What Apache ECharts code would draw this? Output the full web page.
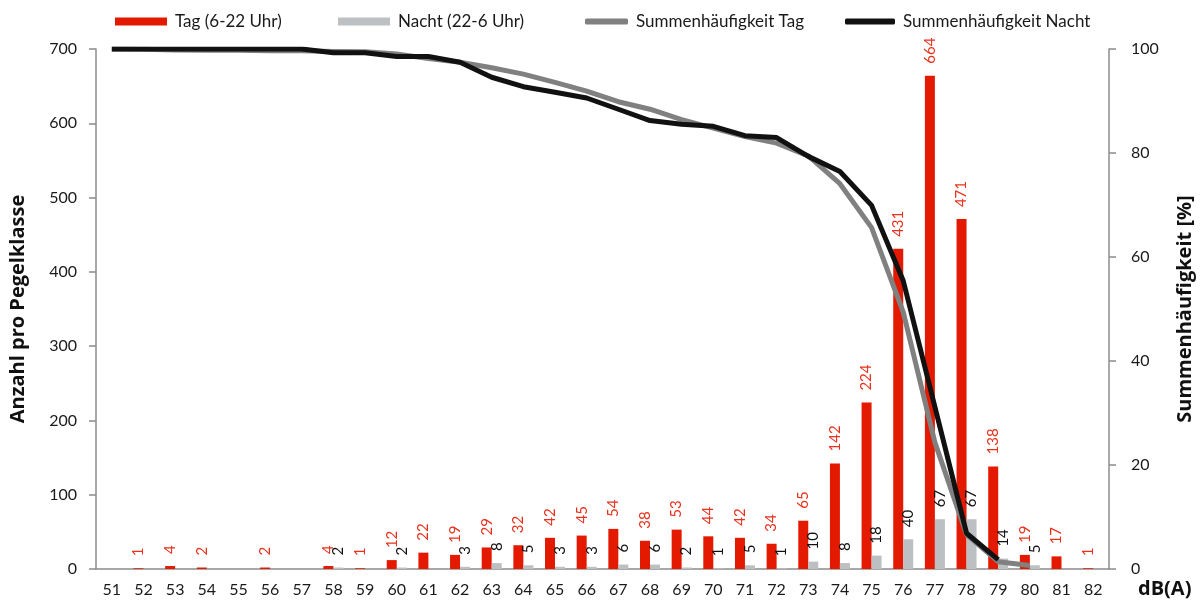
<!DOCTYPE html>
<html>
<head>
<meta charset="utf-8">
<title>Pegelklassen</title>
<script src="https://cdn.jsdelivr.net/npm/echarts@6/dist/echarts.min.js"></script>
<style>
  html, body { margin: 0; padding: 0; background: #fff; }
  #chart { width: 1203px; height: 604px; }
</style>
</head>
<body>
<div id="chart"></div>
<script>
// Pegelklassen dB(A)
var klassen = ['51', '52', '53', '54', '55', '56', '57', '58', '59', '60', '61', '62', '63', '64', '65', '66',
  '67', '68', '69', '70', '71', '72', '73', '74', '75', '76', '77', '78', '79', '80', '81', '82']

// Anzahl pro Pegelklasse
var tag = [0, 1, 4, 2, 0, 2, 0, 4, 1, 12, 22, 19, 29, 32, 42, 45,
  54, 38, 53, 44, 42, 34, 65, 142, 224, 431, 664, 471, 138, 19, 17, 1]
var nacht = [0, 0, 0, 0, 0, 0, 0, 2, 0, 2, 0, 3, 8, 5, 3, 3,
  6, 6, 2, 1, 5, 1, 10, 8, 18, 40, 67, 67, 14, 5, 0, 0]

// Summenhäufigkeit [%]
var summeTag = [100, 99.96, 99.81, 99.74, 99.74, 99.66, 99.66, 99.51, 99.47, 99.02, 98.19, 97.47, 96.38, 95.17, 93.59, 91.89,
  89.86, 88.42, 86.43, 84.77, 83.18, 81.9, 79.45, 74.1, 65.65, 49.4, 24.36, 6.6, 1.4, 0.68, null, null]
var summeNacht = [100, 100, 100, 100, 100, 100, 100, 99.28, 99.28, 98.55, 98.55, 97.46, 94.57, 92.75, 91.67, 90.58,
  88.41, 86.23, 85.51, 85.14, 83.33, 82.97, 79.35, 76.45, 69.93, 55.43, 31.16, 6.88, 1.81, null, null, null]

var linksTicks = { min: 0, max: 700, interval: 100 }
var rechtsTicks = { min: 0, max: 100, interval: 20 }

var font = 'Lato, "Open Sans", sans-serif'
var titelFont = '"Open Sans", Lato, sans-serif'
var achsenFarbe = '#8c8c8c'

function legende(name, left, width, height, icon) {
  return {
    data: [name],
    left: left,
    top: 8,
    icon: icon,
    itemWidth: width,
    itemHeight: height,
    textStyle: { fontFamily: font, fontSize: 17, color: '#1a1a1a', padding: [0, 0, 0, 3] }
  }
}

function balkenLabel(farbe) {
  return {
    show: true,
    position: 'top',
    rotate: 90,
    align: 'left',
    verticalAlign: 'middle',
    distance: 12,
    fontFamily: font,
    fontSize: 15,
    color: farbe,
    formatter: function(p) {
      return p.value ? String(p.value) : ''
    }
  }
}

var titel = { fontFamily: titelFont, fontSize: 20, fontWeight: 'bold', color: '#111' }

var option = {
  animation: false,
  legend: [
    legende('Tag (6-22 Uhr)', 110, 52, 8, 'rect'),
    legende('Nacht (22-6 Uhr)', 333, 52, 8, 'rect'),
    legende('Summenhäufigkeit Tag', 580, 43, 6, 'roundRect'),
    legende('Summenhäufigkeit Nacht', 840, 50, 6, 'roundRect')
  ],
  grid: {
    left: 96,
    right: 94,
    top: 49,
    bottom: 35
  },
  xAxis: {
    type: 'category',
    data: klassen,
    name: 'dB(A)',
    nameLocation: 'end',
    nameGap: 29,
    nameTextStyle: {
      fontFamily: titelFont,
      fontSize: 20,
      fontWeight: 'bold',
      color: '#111',
      verticalAlign: 'top',
      padding: [10, 0, 0, 0]
    },
    axisLine: { lineStyle: { color: achsenFarbe, width: 1.5 } },
    axisTick: { length: 7, lineStyle: { color: achsenFarbe, width: 1.5 } },
    axisLabel: { interval: 0, margin: 13, fontFamily: font, fontSize: 16, color: '#1a1a1a' }
  },
  yAxis: [
    {
      type: 'value',
      min: linksTicks.min,
      max: linksTicks.max,
      interval: linksTicks.interval,
      name: 'Anzahl pro Pegelklasse',
      nameLocation: 'middle',
      nameGap: 68,
      nameTextStyle: titel,
      axisLine: { show: true, lineStyle: { color: achsenFarbe, width: 1.5 } },
      axisTick: { show: true, length: 7, lineStyle: { color: achsenFarbe, width: 1.5 } },
      axisLabel: { margin: 19, fontFamily: font, fontSize: 16, color: '#1a1a1a' },
      splitLine: { show: false }
    },
    {
      type: 'value',
      position: 'right',
      min: rechtsTicks.min,
      max: rechtsTicks.max,
      interval: rechtsTicks.interval,
      name: 'Summenhäufigkeit [%]',
      nameLocation: 'middle',
      nameGap: 66,
      nameTextStyle: titel,
      axisLine: { show: true, lineStyle: { color: achsenFarbe, width: 1.5 } },
      axisTick: { show: true, length: 7, lineStyle: { color: achsenFarbe, width: 1.5 } },
      axisLabel: { margin: 22, fontFamily: font, fontSize: 16, color: '#1a1a1a' },
      splitLine: { show: false }
    }
  ],
  series: [
    {
      type: 'bar',
      name: 'Tag (6-22 Uhr)',
      data: tag,
      barWidth: 10,
      barGap: '0%',
      itemStyle: { color: '#e41a00' },
      label: balkenLabel('#e8321e')
    },
    {
      type: 'bar',
      name: 'Nacht (22-6 Uhr)',
      data: nacht,
      barWidth: 10,
      barGap: '0%',
      itemStyle: { color: '#bcc0c3' },
      label: balkenLabel('#111')
    },
    {
      type: 'line',
      name: 'Summenhäufigkeit Tag',
      yAxisIndex: 1,
      data: summeTag,
      symbol: 'none',
      lineStyle: { color: '#808080', width: 5, join: 'round' },
      itemStyle: { color: '#808080' }
    },
    {
      type: 'line',
      name: 'Summenhäufigkeit Nacht',
      yAxisIndex: 1,
      data: summeNacht,
      symbol: 'none',
      lineStyle: { color: '#111111', width: 5, join: 'round' },
      itemStyle: { color: '#111111' }
    }
  ]
}

var myChart = echarts.init(document.getElementById('chart'))
myChart.setOption(option)
</script>
</body>
</html>
